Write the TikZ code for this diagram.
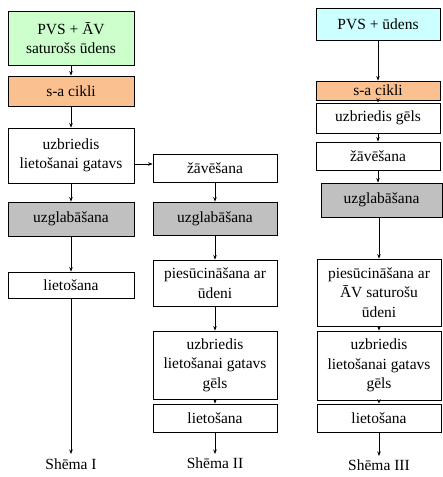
\documentclass[tikz,border=0pt]{standalone}
\usepackage{fontspec}
\setmainfont{Liberation Serif}
\usetikzlibrary{arrows.meta}
\definecolor{boxgreen}{HTML}{CCFFCC}
\definecolor{boxorange}{HTML}{FAC090}
\definecolor{boxcyan}{HTML}{CCFFFF}
\definecolor{boxgrey}{HTML}{C0C0C0}
\tikzset{
  stepbox/.style={draw=black, line width=0.8pt, fill=white, align=center,
    inner xsep=1pt, inner ysep=0pt,
    font=\fontsize{15.5}{19.5}\selectfont},
  wI/.style={minimum width=126pt},
  wII/.style={minimum width=124pt},
  arr/.style={draw=black, line width=0.7pt, -{Stealth[length=4.5pt,width=3.5pt]}},
  lbl/.style={font=\fontsize{15.5}{18}\selectfont}
}
\begin{document}
\begin{tikzpicture}[x=1pt,y=-1pt]
\useasboundingbox (0,0) rectangle (443,477);
% Scheme I
\node[stepbox,wI,fill=boxgreen,minimum height=54pt] (a1) at (71,38) {PVS + ĀV\\saturošs ūdens};
\node[stepbox,wI,fill=boxorange,minimum height=30pt] (a2) at (71,91) {s-a cikli};
\node[stepbox,wI,minimum height=55pt] (a3) at (71,155.5) {uzbriedis\\lietošanai gatavs};
\node[stepbox,wI,fill=boxgrey,minimum height=34pt] (a4) at (71,219) {uzglabāšana};
\node[stepbox,wI,minimum height=26pt] (a5) at (71,285) {lietošana};
\coordinate (ae) at (71,454);
\node[lbl] (la) at (71,464) {Shēma I};
\draw[arr] (a1) -- (a2);
\draw[arr] (a2) -- (a3);
\draw[arr] (a3) -- (a4);
\draw[arr] (a4) -- (a5);
\draw[arr] (a5) -- (ae);
% Scheme II
\node[stepbox,wII,minimum height=28pt] (b1) at (215,168) {žāvēšana};
\node[stepbox,wII,fill=boxgrey,minimum height=33pt] (b2) at (215,218.5) {uzglabāšana};
\node[stepbox,wII,minimum height=46pt] (b3) at (215,283) {piesūcināšana ar\\ūdeni};
\node[stepbox,wII,minimum height=68pt] (b4) at (215,365) {uzbriedis\\lietošanai gatavs\\gēls};
\node[stepbox,wII,minimum height=28pt] (b5) at (215,418) {lietošana};
\coordinate (be) at (215,454);
\node[lbl] (lb) at (215,463) {Shēma II};
\draw[arr] (a3.east |- 0,164) -- (b1.west |- 0,164);
\draw[arr] (b1) -- (b2);
\draw[arr] (b2) -- (b3);
\draw[arr] (b3) -- (b4);
\draw[arr] (b4) -- (b5);
\draw[arr] (b5) -- (be);
% Scheme III
\node[stepbox,wII,fill=boxcyan,minimum height=32pt] (c1) at (378,24) {PVS + ūdens};
\node[stepbox,wII,fill=boxorange,minimum height=19pt] (c2) at (378,90.5) {s-a cikli};
\node[stepbox,wII,minimum height=30pt] (c3) at (378,118) {uzbriedis gēls};
\node[stepbox,wII,minimum height=28pt] (c4) at (378,156) {žāvēšana};
\node[stepbox,minimum width=121pt,fill=boxgrey,minimum height=34pt] (c5) at (381.5,200) {uzglabāšana};
\node[stepbox,wII,minimum height=67pt] (c6) at (379,292.5) {piesūcināšana ar\\ĀV saturošu\\ūdeni};
\node[stepbox,wII,minimum height=69pt] (c7) at (379,365.5) {uzbriedis\\lietošanai gatavs\\gēls};
\node[stepbox,wII,minimum height=28pt] (c8) at (379,418) {lietošana};
\coordinate (ce) at (379,456);
\node[lbl] (lc) at (379,465) {Shēma III};
\draw[arr] (c1) -- (c2);
\draw[arr] (c2) -- (c3);
\draw[arr] (c3) -- (c4);
\draw[arr] (c4.south) -- (c4.south |- c5.north);
\draw[arr] (c5.south -| c6.north) -- (c6);
\draw[arr] (c6) -- (c7);
\draw[arr] (c7) -- (c8);
\draw[arr] (c8) -- (ce);
\end{tikzpicture}
\end{document}
